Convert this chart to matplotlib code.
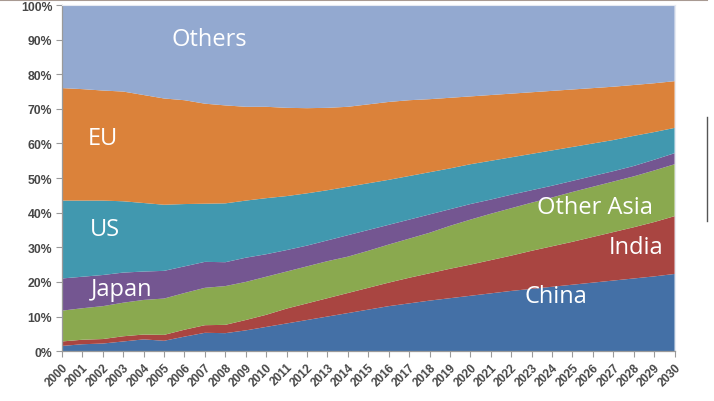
import numpy as np
import matplotlib
matplotlib.use("Agg")
import matplotlib.pyplot as plt
from matplotlib.lines import Line2D

# shares of total (%), 2000-2030
years = np.arange(2000, 2031)
china = [1.5, 2.0, 2.2, 2.8, 3.4, 3.0, 4.2, 5.3, 5.2, 6.0, 7.0, 8.0, 9.0, 10.0, 11.0, 12.0,
         13.0, 13.8, 14.6, 15.3, 16.0, 16.7, 17.4, 18.0, 18.6, 19.2, 19.8, 20.4, 21.0, 21.6, 22.3]
india = [1.3, 1.3, 1.3, 1.5, 1.4, 1.7, 2.0, 2.2, 2.4, 3.0, 3.5, 4.3, 4.8, 5.3, 5.8, 6.3,
         6.8, 7.4, 7.9, 8.5, 9.0, 9.6, 10.2, 11.0, 11.7, 12.4, 13.2, 14.0, 14.8, 15.7, 16.7]
other_asia = [8.9, 9.1, 9.5, 9.7, 10.0, 10.5, 10.6, 10.8, 11.2, 11.0, 11.0, 10.7, 10.7, 10.7, 10.5, 10.7,
              11.0, 11.3, 11.7, 12.4, 13.0, 13.4, 13.7, 13.9, 14.1, 14.4, 14.5, 14.6, 14.7, 14.9, 15.0]
japan = [9.3, 9.1, 9.0, 8.7, 8.2, 8.0, 7.7, 7.5, 6.9, 7.0, 6.5, 6.2, 6.0, 6.0, 6.2, 6.0,
         5.7, 5.5, 5.3, 4.8, 4.5, 4.1, 3.9, 3.6, 3.4, 3.2, 3.1, 3.0, 3.0, 3.1, 3.2]
us = [22.5, 22.0, 21.5, 20.6, 19.8, 19.1, 18.0, 16.8, 17.0, 16.5, 16.2, 15.6, 15.1, 14.5, 14.0, 13.5,
      13.0, 12.6, 12.2, 11.8, 11.5, 11.2, 10.8, 10.5, 10.2, 9.8, 9.4, 9.0, 8.7, 8.0, 7.3]
eu = [32.5, 32.2, 31.8, 31.7, 31.2, 30.7, 30.0, 28.9, 28.3, 27.1, 26.4, 25.5, 24.6, 23.8, 23.1, 22.8,
      22.5, 21.9, 21.1, 20.4, 19.6, 19.0, 18.4, 17.8, 17.2, 16.6, 16.0, 15.4, 14.7, 14.1, 13.5]
others = [24.0, 24.3, 24.7, 25.0, 26.0, 27.0, 27.5, 28.5, 29.2, 29.4, 29.4, 29.7, 29.8, 29.7, 29.4, 28.7,
          28.0, 27.5, 27.2, 26.8, 26.4, 26.0, 25.6, 25.2, 24.8, 24.4, 24.0, 23.6, 23.1, 22.6, 22.0]

names = ["China", "India", "Other Asia", "Japan", "US", "EU", "Others"]
colors = ["#4470a6", "#a94541", "#8aa94f", "#745691", "#4198af", "#db823a", "#93a9d0"]

fig = plt.figure(figsize=(7.14, 4.02), dpi=100)
ax = fig.add_axes([0.0868, 0.124, 0.858, 0.861])

ax.stackplot(years, china, india, other_asia, japan, us, eu, others,
             colors=colors, linewidth=0)

ax.set_xlim(2000, 2030)
ax.set_ylim(0, 100)

ax.set_yticks(np.arange(0, 101, 10))
ax.set_yticklabels([f"{v}%" for v in range(0, 101, 10)])
ax.set_xticks(years)
ax.set_xticklabels([str(y) for y in years], rotation=45, ha="right",
                   rotation_mode="anchor")

for lab in ax.get_yticklabels():
    lab.set_fontsize(8.8)
for lab in ax.get_xticklabels():
    lab.set_fontsize(8.5)
for lab in ax.get_xticklabels() + ax.get_yticklabels():
    lab.set_fontweight("bold")
    lab.set_color("#474747")
    lab.set_family("Liberation Sans")

ax.tick_params(axis="both", direction="out", length=4, color="#9a9a9a", width=0.8)
ax.tick_params(axis="x", pad=3)
ax.tick_params(axis="y", pad=3)
for s in ["left", "bottom"]:
    ax.spines[s].set_color("#9a9a9a")
    ax.spines[s].set_linewidth(0.9)
for s in ["top", "right"]:
    ax.spines[s].set_color("#e6eaf2")
    ax.spines[s].set_linewidth(0.8)

# labels on the areas
labels = [
    ("Others", 2007.2, 90.2),
    ("EU", 2002.0, 61.6),
    ("US", 2002.1, 35.3),
    ("Japan", 2002.9, 17.9),
    ("Other Asia", 2026.1, 41.6),
    ("India", 2028.1, 30.0),
    ("China", 2024.2, 15.9),
]
for txt, x, y in labels:
    ax.text(x, y, txt, color="white", fontsize=17, ha="center", va="center",
            family="Open Sans")

# frame pieces from the source page
fig.add_artist(Line2D([0, 0.99], [0.998, 0.998], color="#a89a92", linewidth=1.5,
                      transform=fig.transFigure))
fig.add_artist(Line2D([0.990, 0.990], [0.448, 0.707], color="#555555", linewidth=1.0,
                      transform=fig.transFigure))

fig.savefig("out.png", dpi=100)
